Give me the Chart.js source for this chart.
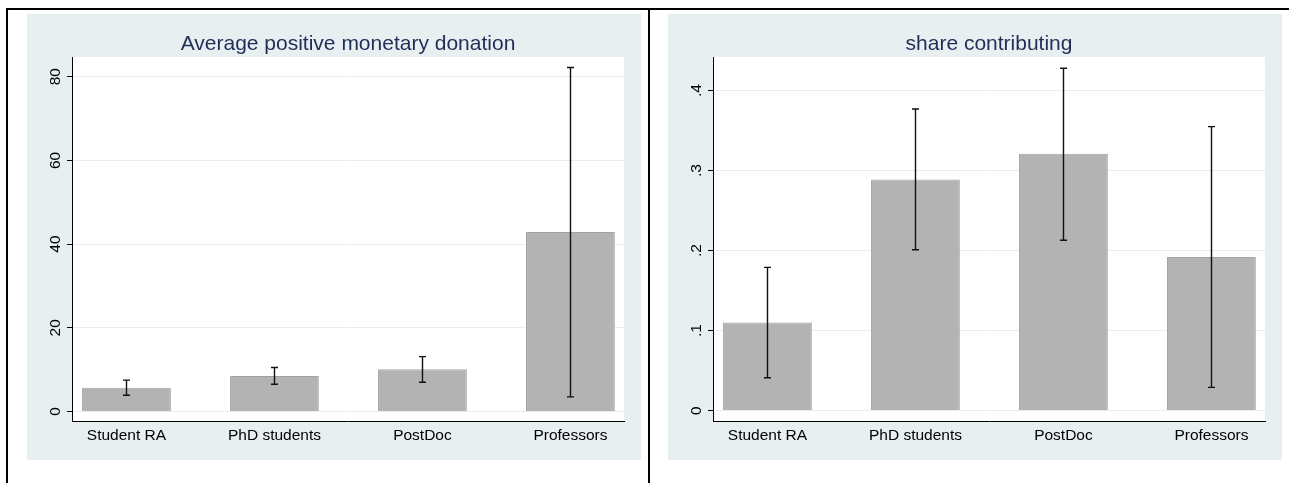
<!DOCTYPE html>
<html>
<head>
<meta charset="utf-8">
<script src="https://cdn.jsdelivr.net/npm/chart.js@4"></script>
<style>
  body { margin: 0; background: #fff; width: 1289px; height: 483px; overflow: hidden; }
  .line { position: absolute; background: #000; }
  .panel { position: absolute; top: 14px; width: 614px; height: 446px; background: #e8eff1; }
</style>
</head>
<body>
<div class="line" style="left:6px; top:8px; width:1283px; height:2px;"></div>
<div class="line" style="left:6px; top:8px; width:2px; height:475px;"></div>
<div class="line" style="left:648px; top:8px; width:2px; height:475px;"></div>
<div class="panel" style="left:27px;"><canvas id="donation_chart" width="614" height="446"></canvas></div>
<div class="panel" style="left:668px;"><canvas id="share_chart" width="614" height="446"></canvas></div>

<script>
const categories = ["Student RA", "PhD students", "PostDoc", "Professors"];

// average positive donation, with 95% CI
const donation_mean = [5.7, 8.5, 10.1, 42.9];
const donation_low = [3.9, 6.5, 7.0, 3.5];
const donation_high = [7.5, 10.5, 13.1, 82.2];
const donation_ticks = [0, 20, 40, 60, 80];
const donation_tick_labels = ["0", "20", "40", "60", "80"];

// share contributing, with 95% CI
const share_mean = [0.110, 0.289, 0.321, 0.192];
const share_low = [0.041, 0.201, 0.213, 0.029];
const share_high = [0.179, 0.377, 0.428, 0.355];
const share_ticks = [0, 0.1, 0.2, 0.3, 0.4];
const share_tick_labels = ["0", ".1", ".2", ".3", ".4"];

const FONT = "'Liberation Sans', Arial, sans-serif";
const gridColor = "#e6eef0";

// white plot region
const plotBg = {
  id: "plotBg",
  beforeDraw(chart) {
    const { ctx, chartArea: a } = chart;
    ctx.save();
    ctx.fillStyle = "#fff";
    ctx.fillRect(a.left, a.top, a.right - a.left, a.bottom - a.top);
    ctx.restore();
  },
};

// stata style vertical y labels
const rotatedYLabels = {
  id: "rotatedYLabels",
  afterDraw(chart, args, opts) {
    const { ctx } = chart;
    const y = chart.scales.y;
    ctx.save();
    ctx.fillStyle = "#000";
    ctx.font = "15.5px " + FONT;
    ctx.textAlign = "center";
    ctx.textBaseline = "alphabetic";
    y.ticks.forEach((t, i) => {
      ctx.save();
      ctx.translate(y.right - 12, y.getPixelForValue(t.value));
      ctx.rotate(-Math.PI / 2);
      ctx.fillText(opts.labels[i], 0, 0);
      ctx.restore();
    });
    ctx.restore();
  },
};

// capped error bars
const errorBars = {
  id: "errorBars",
  afterDatasetsDraw(chart, args, opts) {
    const { ctx } = chart;
    const xs = chart.scales.x;
    const ys = chart.scales.y;
    ctx.save();
    ctx.strokeStyle = "#111";
    ctx.lineWidth = 1.4;
    opts.low.forEach((lo, i) => {
      const x = Math.round(xs.getPixelForValue(i + 1)) + 0.5;
      const y1 = ys.getPixelForValue(lo);
      const y2 = ys.getPixelForValue(opts.high[i]);
      ctx.beginPath();
      ctx.moveTo(x, y1);
      ctx.lineTo(x, y2);
      ctx.moveTo(x - 3.5, y1);
      ctx.lineTo(x + 3.5, y1);
      ctx.moveTo(x - 3.5, y2);
      ctx.lineTo(x + 3.5, y2);
      ctx.stroke();
    });
    ctx.restore();
  },
};

function make_chart(canvasId, title, means, low, high, ticks, tickLabels, yMin, yMax) {
  return new Chart(document.getElementById(canvasId), {
    type: "bar",
    data: {
      datasets: [
        {
          data: means.map((v, i) => ({ x: i + 1, y: v })),
          backgroundColor: "#b3b3b3",
          borderColor: "#a2a2a2",
          borderWidth: 1,
          barPercentage: 0.6,
          categoryPercentage: 1,
        },
      ],
    },
    options: {
      responsive: false,
      animation: false,
      layout: { padding: { top: 0, right: 17, bottom: 0, left: 0 } },
      plugins: {
        legend: { display: false },
        tooltip: { enabled: false },
        title: {
          display: true,
          text: title,
          fullSize: false,
          color: "#1f2d57",
          font: { family: FONT, size: 21, weight: "normal", lineHeight: 1.1 },
          padding: { top: 19, bottom: 0.9 },
        },
        rotatedYLabels: { labels: tickLabels },
        errorBars: { low, high },
      },
      scales: {
        x: {
          type: "linear",
          offset: false,
          min: 0.632,
          max: 4.362,
          afterBuildTicks: (s) => {
            s.ticks = categories.map((c, i) => ({ value: i + 1 }));
          },
          afterFit: (s) => {
            s.height = 39;
          },
          ticks: {
            color: "#000",
            font: { family: FONT, size: 15.5 },
            padding: 5,
            autoSkip: false,
            maxRotation: 0,
            callback: (v) => categories[v - 1],
          },
          grid: { display: true, drawOnChartArea: false, drawTicks: false },
          border: { display: true, color: "#000", width: 1 },
        },
        y: {
          min: yMin,
          max: yMax,
          afterBuildTicks: (s) => {
            s.ticks = ticks.map((v) => ({ value: v }));
          },
          afterFit: (s) => {
            s.width = 45;
          },
          ticks: { display: false },
          grid: { color: gridColor, lineWidth: 1, tickLength: 5, tickColor: "#000" },
          border: { display: true, color: "#000", width: 1 },
        },
      },
    },
    plugins: [plotBg, rotatedYLabels, errorBars],
  });
}

const donation_chart = make_chart(
  "donation_chart",
  "Average positive monetary donation",
  donation_mean, donation_low, donation_high,
  donation_ticks, donation_tick_labels,
  -2.27, 84.7
);

const share_chart = make_chart(
  "share_chart",
  "share contributing",
  share_mean, share_low, share_high,
  share_ticks, share_tick_labels,
  -0.013, 0.442
);
</script>
</body>
</html>
